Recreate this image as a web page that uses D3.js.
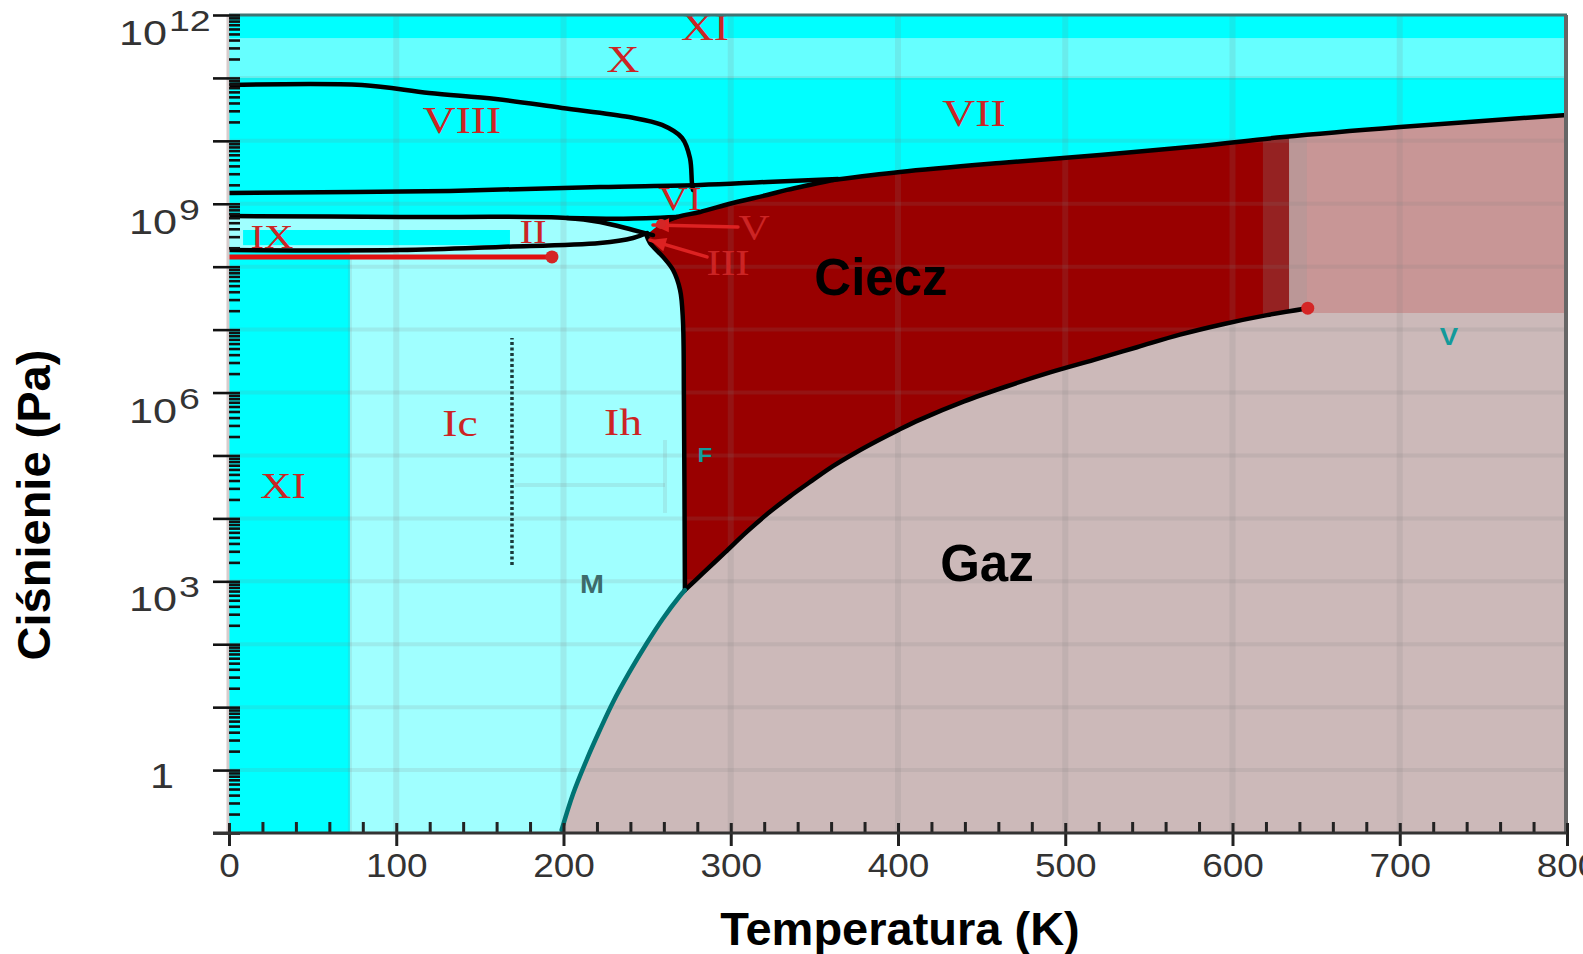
<!DOCTYPE html>
<html><head><meta charset="utf-8">
<script src="https://cdn.jsdelivr.net/npm/d3@7"></script>
<style>html,body{margin:0;padding:0;background:#fff;}svg{display:block;}</style>
</head><body>
<svg id="chart" width="1583" height="954"></svg>
<script>
// ---------------- data (T in K, P in Pa) ----------------
const xTickValues = [0, 100, 200, 300, 400, 500, 600, 700, 800];
const xTickLabels = ["0", "100", "200", "300", "400", "500", "600", "700", "800"];
const yLabelValues = [1, 1e3, 1e6, 1e9, 1e12];
const yLabelExps = ["", "3", "6", "9", "12"];

const vaporization = [[272.6, 724], [283.4, 1349], [296.6, 2884], [309.7, 6166], [322.3, 1.202e4],
  [335.4, 2.239e4], [348.6, 3.981e4], [361.1, 6.761e4], [374.3, 1.096e5], [387.4, 1.698e5], [400.6, 2.57e5],
  [413.2, 3.715e5], [439.5, 7.244e5], [465.2, 1.259e6], [490.9, 2.089e6], [517.2, 3.311e6], [542.9, 5.248e6],
  [568.6, 8.318e6], [594.9, 1.23e7], [620.6, 1.698e7], [645, 2.188e7]];
const sublimation = [[198.9, 0.112], [205.7, 0.417], [214.1, 1.51], [221.8, 4.37], [229.6, 12.0],
  [239.5, 36.3], [249.9, 104.7], [259.5, 257], [269.7, 589], [272.6, 724]];
const meltingIh = [[249.5, 3.2e8], [251.7, 2.38e8], [259.5, 1.43e8], [265.5, 8.85e7], [269.7, 4.26e7],
  [271.4, 1.42e7], [272.0, 7.6e5], [272.6, 724]];
const boundaryVIII_X = [[0, 7.7e10], [79.5, 7.7e10], [119.6, 5.75e10], [159.6, 4.62e10], [199.1, 3.33e10],
  [239.2, 2.39e10], [258.9, 1.79e10], [270.9, 1.11e10], [275.6, 5.33e9], [276.8, 2.14e9], [277.4, 1.66e9]];
const boundaryVIII_VI = [[0, 1.48e9], [132.1, 1.6e9], [221.8, 1.85e9], [281.6, 1.99e9], [321.7, 2.22e9],
  [364.1, 2.48e9]];
const meltingVI = [[257.7, 4.77e8], [267.9, 6.17e8], [281.6, 7.4e8], [301.3, 1.03e9], [321.7, 1.38e9],
  [333.6, 1.66e9], [361.1, 2.39e9]];
const meltingVII = [[361.1, 2.39e9], [401.2, 3.2e9], [461.0, 4.45e9], [520.8, 5.96e9], [580.6, 8.28e9],
  [630.2, 1.15e10], [700.2, 1.66e10], [800, 2.58e10]];
const boundaryII_upper = [[0, 6.38e8], [102.2, 6.17e8], [202.1, 5.94e8], [221.8, 5.13e8], [241.6, 3.83e8],
  [253.5, 3.18e8]];
const boundaryII_VI = [[202.1, 5.94e8], [235.8, 5.8e8], [267.9, 6.17e8]];
const boundaryIh_II = [[0, 1.84e8], [102.2, 1.84e8], [162.0, 2.06e8], [221.8, 2.38e8], [241.6, 2.86e8],
  [249.9, 3.43e8]];
const boundaryRed = [[0, 1.43e8], [193.1, 1.43e8]];
const redPoint = [193.1, 1.43e8];
const criticalPoint = [645, 2.188e7];
const triplePointVI = [258.3, 4.77e8];
const supercriticalP = 1.84e7;
const iceXI_Tmax = 72.3;
const bandX = [1e11, 4.3e11];
const iceIXBox = [[8.4, 2.2e8], [168, 3.83e8]];
const fluidBands = [618.2, 633.8, 644.5];
const dottedLine = [[169.2, 1.82e3], [169.2, 7.36e6]];
const artifactLines = [[[260.7, 1.76e5], [260.7, 1.22e4]], [[171, 3.39e4], [260.7, 3.39e4]]];
const arrowV = [[304.3, 4.27e8], [253.5, 4.6e8]];
const arrowIII = [[285.8, 1.43e8], [251.7, 2.65e8]];

const phaseLabels = [
  ["XI", 284.6, 4.0e11, 38], ["X", 235.6, 1.24e11, 38], ["VIII", 139.3, 1.33e10, 38],
  ["VII", 445.4, 1.72e10, 38], ["VI", 269.7, 7.96e8, 34], ["V", 313.9, 2.65e8, 36],
  ["III", 298.4, 7.38e7, 36], ["II", 181.8, 2.38e8, 34], ["IX", 25.7, 1.98e8, 34],
  ["XI", 32.3, 2.11e4, 36], ["Ic", 138.1, 2.04e5, 38], ["Ih", 235.6, 2.11e5, 38]
];
const smallLabels = [["F", 284.6, 7.87e4, 21, "#149c9c"], ["M", 217.0, 652, 25, "#3d6b6b"],
  ["V", 729.4, 5.69e6, 24, "#139a9a"]];
const regionLabels = [["Ciecz", 389.8, 3.55e7], ["Gaz", 453.2, 1.01e3]];

// ---------------- scales ----------------
const svg = d3.select("#chart");
const x = d3.scaleLinear().domain([0, 800]).range([229, 1567]);
const y = d3.scaleLog().domain([0.1, 1e12]).range([833, 15]);
const X0 = x(0), X1 = x(800), Y0 = y(0.1), Y1 = y(1e12);

const line = d3.line().x(d => x(d[0])).y(d => y(d[1]));
const smooth = d3.line().x(d => x(d[0])).y(d => y(d[1])).curve(d3.curveCatmullRom.alpha(0.5));

const defs = svg.append("defs");
defs.append("clipPath").attr("id", "plotClip").append("rect")
  .attr("x", X0).attr("y", Y1).attr("width", X1 - X0).attr("height", Y0 - Y1);

const plot = svg.append("g").attr("clip-path", "url(#plotClip)");

// background (ice XI / VII / VIII cyan)
plot.append("rect").attr("x", X0).attr("y", Y1).attr("width", X1 - X0).attr("height", Y0 - Y1).attr("fill", "#00ffff");
// ice X band
plot.append("rect").attr("x", X0).attr("y", y(bandX[1])).attr("width", X1 - X0)
  .attr("height", y(bandX[0]) - y(bandX[1])).attr("fill", "#66ffff");

// ice II region
const iceII = boundaryII_upper.concat(boundaryIh_II.slice().reverse());
plot.append("path").attr("d", line(iceII) + "Z").attr("fill", "#a0ffff");
// ice IX box
plot.append("rect").attr("x", x(iceIXBox[0][0])).attr("y", y(iceIXBox[1][1]))
  .attr("width", x(iceIXBox[1][0]) - x(iceIXBox[0][0])).attr("height", y(iceIXBox[0][1]) - y(iceIXBox[1][1]))
  .attr("fill", "#00ffff");

// ice Ih / Ic region
const ihPoly = [[iceXI_Tmax, 0.1], [iceXI_Tmax, boundaryIh_II[0][1]]]
  .concat(boundaryIh_II.filter(d => d[0] > iceXI_Tmax))
  .concat(meltingIh)
  .concat(sublimation.slice().reverse())
  .concat([[198.5, 0.1]]);
plot.append("path").attr("d", line(ihPoly) + "Z").attr("fill", "#a0ffff");

// gas region
const gasPoly = [[198.5, 0.1]].concat(sublimation).concat(vaporization.slice(1))
  .concat([[criticalPoint[0], supercriticalP], [800, supercriticalP], [800, 0.1]]);
plot.append("path").attr("d", line(gasPoly) + "Z").attr("fill", "#ccb9b9");

// fluid (liquid + supercritical)
const fluidPoly = vaporization.concat([[criticalPoint[0], supercriticalP], [800, supercriticalP]])
  .concat(meltingVII.slice().reverse())
  .concat(meltingVI.slice(0, -1).reverse())
  .concat(meltingIh.slice(0, -1));
const fluidD = line(fluidPoly) + "Z";
defs.append("clipPath").attr("id", "fluidClip").append("path").attr("d", fluidD);
plot.append("path").attr("d", fluidD).attr("fill", "#990000");
const bandColors = ["#952222", "#bb9797", "#c89696"];
const bandEdges = fluidBands.concat([800]);
bandColors.forEach((c, i) => {
  plot.append("rect").attr("clip-path", "url(#fluidClip)")
    .attr("x", x(bandEdges[i])).attr("y", Y1).attr("width", x(bandEdges[i + 1]) - x(bandEdges[i]) + 2)
    .attr("height", Y0 - Y1).attr("fill", c);
});

// grid
const grid = plot.append("g").attr("stroke", "rgba(128,128,128,0.15)");
[100, 200, 300, 400, 500, 600, 700].forEach(t => {
  grid.append("line").attr("x1", x(t)).attr("x2", x(t)).attr("y1", Y1).attr("y2", Y0).attr("stroke-width", 6);
});
d3.range(0, 12).forEach(e => {
  const v = Math.pow(10, e);
  grid.append("line").attr("x1", X0).attr("x2", X1).attr("y1", y(v)).attr("y2", y(v)).attr("stroke-width", 4);
});
grid.append("line").attr("x1", x(iceXI_Tmax)).attr("x2", x(iceXI_Tmax)).attr("y1", y(1.43e8)).attr("y2", Y0).attr("stroke-width", 4);
artifactLines.forEach(l => grid.append("path").attr("d", line(l)).attr("stroke-width", 4).attr("fill", "none"));

// dotted line
plot.append("path").attr("d", line(dottedLine)).attr("stroke", "#1b3b3b").attr("stroke-width", 3.5)
  .attr("stroke-dasharray", "3,2.5").attr("fill", "none");

// phase boundaries
const lines = plot.append("g").attr("fill", "none").attr("stroke-linecap", "round").attr("stroke-linejoin", "round");
[boundaryVIII_X, boundaryVIII_VI, meltingVI, meltingVII, boundaryII_upper, boundaryII_VI, boundaryIh_II, meltingIh]
  .forEach(d => lines.append("path").attr("d", smooth(d)).attr("stroke", "#000").attr("stroke-width", 4.5));
lines.append("path").attr("d", smooth(vaporization)).attr("stroke", "#000").attr("stroke-width", 4.5);
lines.append("path").attr("d", smooth(sublimation)).attr("stroke", "#007373").attr("stroke-width", 4.5);
lines.append("path").attr("d", line(boundaryRed)).attr("stroke", "#e01010").attr("stroke-width", 5).attr("stroke-linecap", "butt");

// red arrows
[arrowV, arrowIII].forEach(a => {
  lines.append("path").attr("d", line(a)).attr("stroke", "#dd2222").attr("stroke-width", 3.5);
  const [p0, p1] = a;
  const x0 = x(p0[0]), y0 = y(p0[1]), x1 = x(p1[0]), y1 = y(p1[1]);
  const ang = Math.atan2(y1 - y0, x1 - x0);
  const L = 16, w = 7;
  const bx = x1 - L * Math.cos(ang), by = y1 - L * Math.sin(ang);
  const pts = [[x1, y1], [bx + w * Math.sin(ang), by - w * Math.cos(ang)], [bx - w * Math.sin(ang), by + w * Math.cos(ang)]];
  plot.append("polygon").attr("points", pts.map(p => p.join(",")).join(" ")).attr("fill", "#dd2222");
});

// points
[redPoint, criticalPoint, triplePointVI].forEach((p, i) => {
  plot.append("circle").attr("cx", x(p[0])).attr("cy", y(p[1])).attr("r", i === 2 ? 5 : 6.5).attr("fill", "#d42626");
});

// phase labels (serif, red)
phaseLabels.forEach(([t, T, P, fs]) => {
  plot.append("text").attr("transform", `translate(${x(T)},${y(P)}) scale(1.2,1)`)
    .attr("text-anchor", "middle").attr("font-family", "'Liberation Serif','Times New Roman',serif")
    .attr("font-size", fs).attr("fill", "#cc2424").text(t);
});
smallLabels.forEach(([t, T, P, fs, c]) => {
  plot.append("text").attr("transform", `translate(${x(T)},${y(P)}) scale(1.15,1)`)
    .attr("text-anchor", "middle").attr("font-family", "'Liberation Sans',Arial,sans-serif")
    .attr("font-weight", "bold").attr("font-size", fs).attr("fill", c).text(t);
});
regionLabels.forEach(([t, T, P]) => {
  plot.append("text").attr("x", x(T)).attr("y", y(P)).attr("text-anchor", "middle")
    .attr("font-family", "'Liberation Sans',Arial,sans-serif").attr("font-weight", "bold")
    .attr("font-size", 51).attr("fill", "#000").text(t);
});

// ---------------- frame & axes ----------------
svg.append("line").attr("x1", X0 - 1).attr("x2", X0 - 1).attr("y1", Y1).attr("y2", Y0).attr("stroke", "#d8cccc").attr("stroke-width", 3);
svg.append("line").attr("x1", X0).attr("x2", X1).attr("y1", Y1).attr("y2", Y1).attr("stroke", "#3f7575").attr("stroke-width", 3);
svg.append("line").attr("x1", X1 - 1).attr("x2", X1 - 1).attr("y1", Y1).attr("y2", Y0).attr("stroke", "#666").attr("stroke-width", 4);

// y axis ticks
const yMajor = d3.range(-1, 13).map(e => Math.pow(10, e));
const yAll = [];
d3.range(-1, 12).forEach(e => { for (let k = 1; k <= 9; k++) yAll.push(k * Math.pow(10, e)); });
yAll.push(1e12);
const yOut = svg.append("g").attr("transform", `translate(${X0},0)`)
  .call(d3.axisLeft(y).tickValues(yMajor).tickSize(16).tickFormat(""));
const yIn = svg.append("g").attr("transform", `translate(${X0},0)`)
  .call(d3.axisRight(y).tickValues(yAll).tickSize(11).tickFormat(""));
[yOut, yIn].forEach(g => {
  g.select(".domain").remove();
  g.selectAll(".tick line").attr("stroke", "#111").attr("stroke-width", 2.6);
});

// y labels
const labelFont = "'Liberation Sans',Arial,sans-serif";
yLabelValues.forEach((v, i) => {
  const exp = yLabelExps[i];
  const ty = y(v);
  if (exp === "") {
    svg.append("text").attr("transform", `translate(174,${ty + 18}) scale(1.2,1)`).attr("text-anchor", "end")
      .attr("font-family", labelFont).attr("font-size", 36).attr("fill", "#333").text("1");
  } else {
    const baseEnd = 177 - (exp.length - 1) * 10;
    svg.append("text").attr("transform", `translate(${baseEnd},${ty + 30}) scale(1.2,1)`).attr("text-anchor", "end")
      .attr("font-family", labelFont).attr("font-size", 36).attr("fill", "#333").text("10");
    svg.append("text").attr("transform", `translate(${baseEnd + 2},${ty + 16}) scale(1.25,1)`).attr("text-anchor", "start")
      .attr("font-family", labelFont).attr("font-size", 30).attr("fill", "#333").text(exp);
  }
});

// x axis
const xMinor = d3.range(20, 800, 20).filter(v => v % 100 !== 0);
const xMinorG = svg.append("g").attr("transform", `translate(0,${Y0})`)
  .call(d3.axisBottom(x).tickValues(xMinor).tickSizeInner(-11).tickSizeOuter(0).tickFormat(""));
xMinorG.select(".domain").remove();
xMinorG.selectAll(".tick line").attr("stroke", "#222").attr("stroke-width", 3);
const xMajorG = svg.append("g").attr("transform", `translate(0,${Y0})`)
  .call(d3.axisBottom(x).tickValues(xTickValues).tickSize(13).tickFormat((d, i) => xTickLabels[i]));
xMajorG.select(".domain").remove();
xMajorG.selectAll(".tick line").attr("stroke", "#222").attr("stroke-width", 3).attr("y1", -10);
xMajorG.selectAll(".tick text").attr("y", 44).attr("dy", 0).attr("transform", "scale(1.12,1)")
  .attr("font-family", labelFont).attr("font-size", 33).attr("fill", "#333");
svg.append("line").attr("x1", 213).attr("x2", X1).attr("y1", Y0).attr("y2", Y0).attr("stroke", "#333").attr("stroke-width", 3);

// titles
svg.append("text").attr("x", 900).attr("y", 945).attr("text-anchor", "middle")
  .attr("font-family", labelFont).attr("font-weight", "bold").attr("font-size", 47).attr("fill", "#000")
  .text("Temperatura (K)");
svg.append("text").attr("transform", "translate(50,505) rotate(-90)").attr("text-anchor", "middle")
  .attr("font-family", labelFont).attr("font-weight", "bold").attr("font-size", 47).attr("fill", "#000")
  .text("Ciśnienie (Pa)");
</script>
</body></html>
